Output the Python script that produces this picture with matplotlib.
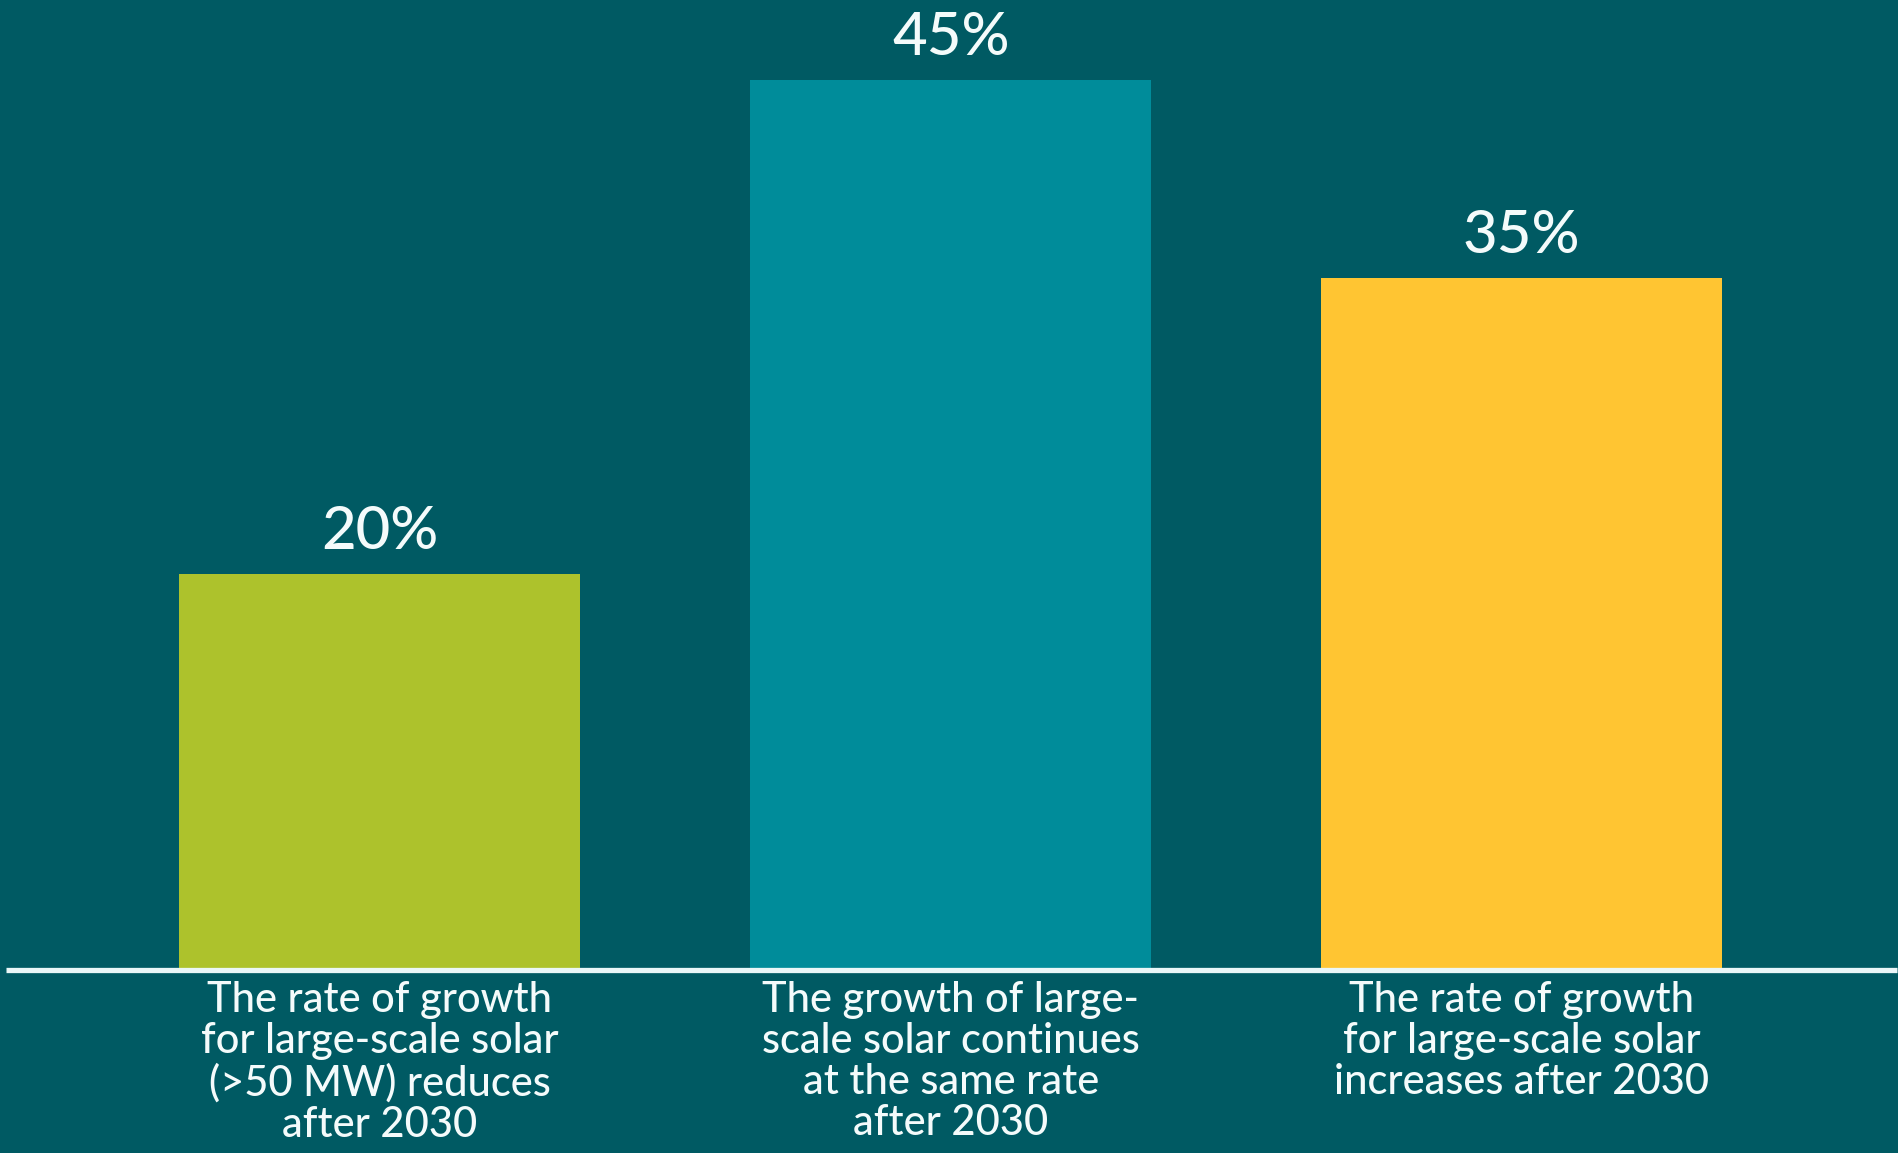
import matplotlib.pyplot as plt

categories = [
    "The rate of growth\nfor large-scale solar\n(>50 MW) reduces\nafter 2030",
    "The growth of large-\nscale solar continues\nat the same rate\nafter 2030",
    "The rate of growth\nfor large-scale solar\nincreases after 2030",
]
shares = [20, 45, 35]
value_labels = ["20%", "45%", "35%"]

BG = "#005A63"
BAR_COLORS = ["#ADC22C", "#008C9A", "#FFC532"]
TEXT = "#F4FBFB"

plt.rcParams["font.family"] = ["Lato", "DejaVu Sans"]

fig = plt.figure(figsize=(18.99, 11.53), dpi=100, facecolor=BG)
# axes bottom sits on the baseline; full figure width
ax = fig.add_axes([0, 183 / 1153, 1, 970 / 1153])
ax.set_facecolor(BG)

x = range(len(shares))
ax.bar(x, shares, width=0.702, color=BAR_COLORS, zorder=2)
ax.set_xlim(-0.665, 2.661)
ax.set_ylim(0, 49.04)

ax.axhline(0, xmin=6 / 1899, xmax=1897 / 1899, color="#EAF7F8", lw=3.8,
           zorder=3, clip_on=False, solid_capstyle="butt")

for i, (v, lab) in enumerate(zip(shares, value_labels)):
    ax.annotate(lab, (i, v), xytext=(0, 18), textcoords="offset points",
                ha="center", va="baseline", fontsize=43, fontweight="medium",
                color=TEXT)

for i, cat in enumerate(categories):
    ax.annotate(cat, (i, 0), xytext=(0, -8), textcoords="offset points",
                ha="center", va="top", fontsize=30, fontweight="medium",
                color=TEXT, linespacing=1.1, annotation_clip=False)

ax.axis("off")
fig.savefig("out.png", dpi=100, facecolor=BG)
